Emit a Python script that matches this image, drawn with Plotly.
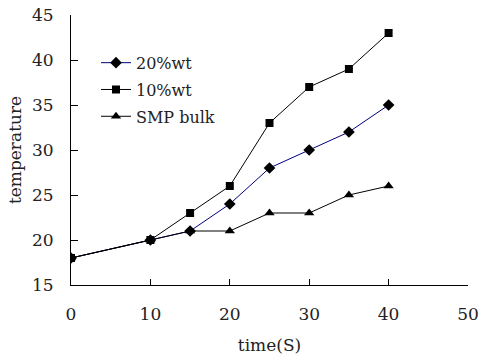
import plotly.graph_objects as go

time_s = [0, 10, 15, 20, 25, 30, 35, 40]
wt20 = [18, 20, 21, 24, 28, 30, 32, 35]
wt10 = [18, 20, 23, 26, 33, 37, 39, 43]
smp_bulk = [18, 20, 21, 21, 23, 23, 25, 26]

FONT = "DejaVu Serif"

fig = go.Figure()
fig.add_trace(go.Scatter(x=time_s, y=wt20, name="20%wt", mode="lines+markers",
                         legendgroup="a", legendrank=1,
                         line=dict(color="#000080", width=1),
                         marker=dict(symbol="diamond", size=9, color="black")))
fig.add_trace(go.Scatter(x=time_s, y=smp_bulk, name="SMP bulk", mode="lines+markers",
                         legendgroup="c", legendrank=3,
                         line=dict(color="black", width=1),
                         marker=dict(symbol="triangle-up", size=9, color="black")))
fig.add_trace(go.Scatter(x=time_s, y=wt10, name="10%wt", mode="lines+markers",
                         legendgroup="b", legendrank=2,
                         line=dict(color="black", width=1),
                         marker=dict(symbol="square", size=8, color="black")))

fig.update_layout(
    width=480, height=356,
    margin=dict(l=71, r=12, t=15, b=71, autoexpand=False),
    paper_bgcolor="white", plot_bgcolor="white",
    font=dict(family=FONT, size=16, color="#222"),
    showlegend=True,
    legend=dict(x=0.063, y=0.886, xanchor="left", yanchor="top",
                bgcolor="rgba(0,0,0,0)", font=dict(family=FONT, size=16),
                traceorder="grouped", tracegroupgap=3, itemwidth=30),
    xaxis=dict(range=[0, 50], tickvals=[0, 10, 20, 30, 40, 50],
               showgrid=False, zeroline=False, showline=True, linecolor="black",
               linewidth=1, ticks="inside", ticklen=6, tickcolor="black",
               tickfont=dict(size=17), automargin=False, ticklabelstandoff=14,
               title=dict(text="time(S)", standoff=15, font=dict(size=17))),
    yaxis=dict(range=[15, 45], tickvals=[15, 20, 25, 30, 35, 40, 45],
               showgrid=False, zeroline=False, showline=True, linecolor="black",
               linewidth=1, ticks="inside", ticklen=7, tickcolor="black",
               tickfont=dict(size=17), automargin=False, ticklabelstandoff=13,
               title=dict(text="temperature", standoff=6, font=dict(size=17))),
)

fig.write_html("out.html", config={"displayModeBar": False},
               post_script="document.body.style.margin='0';")
